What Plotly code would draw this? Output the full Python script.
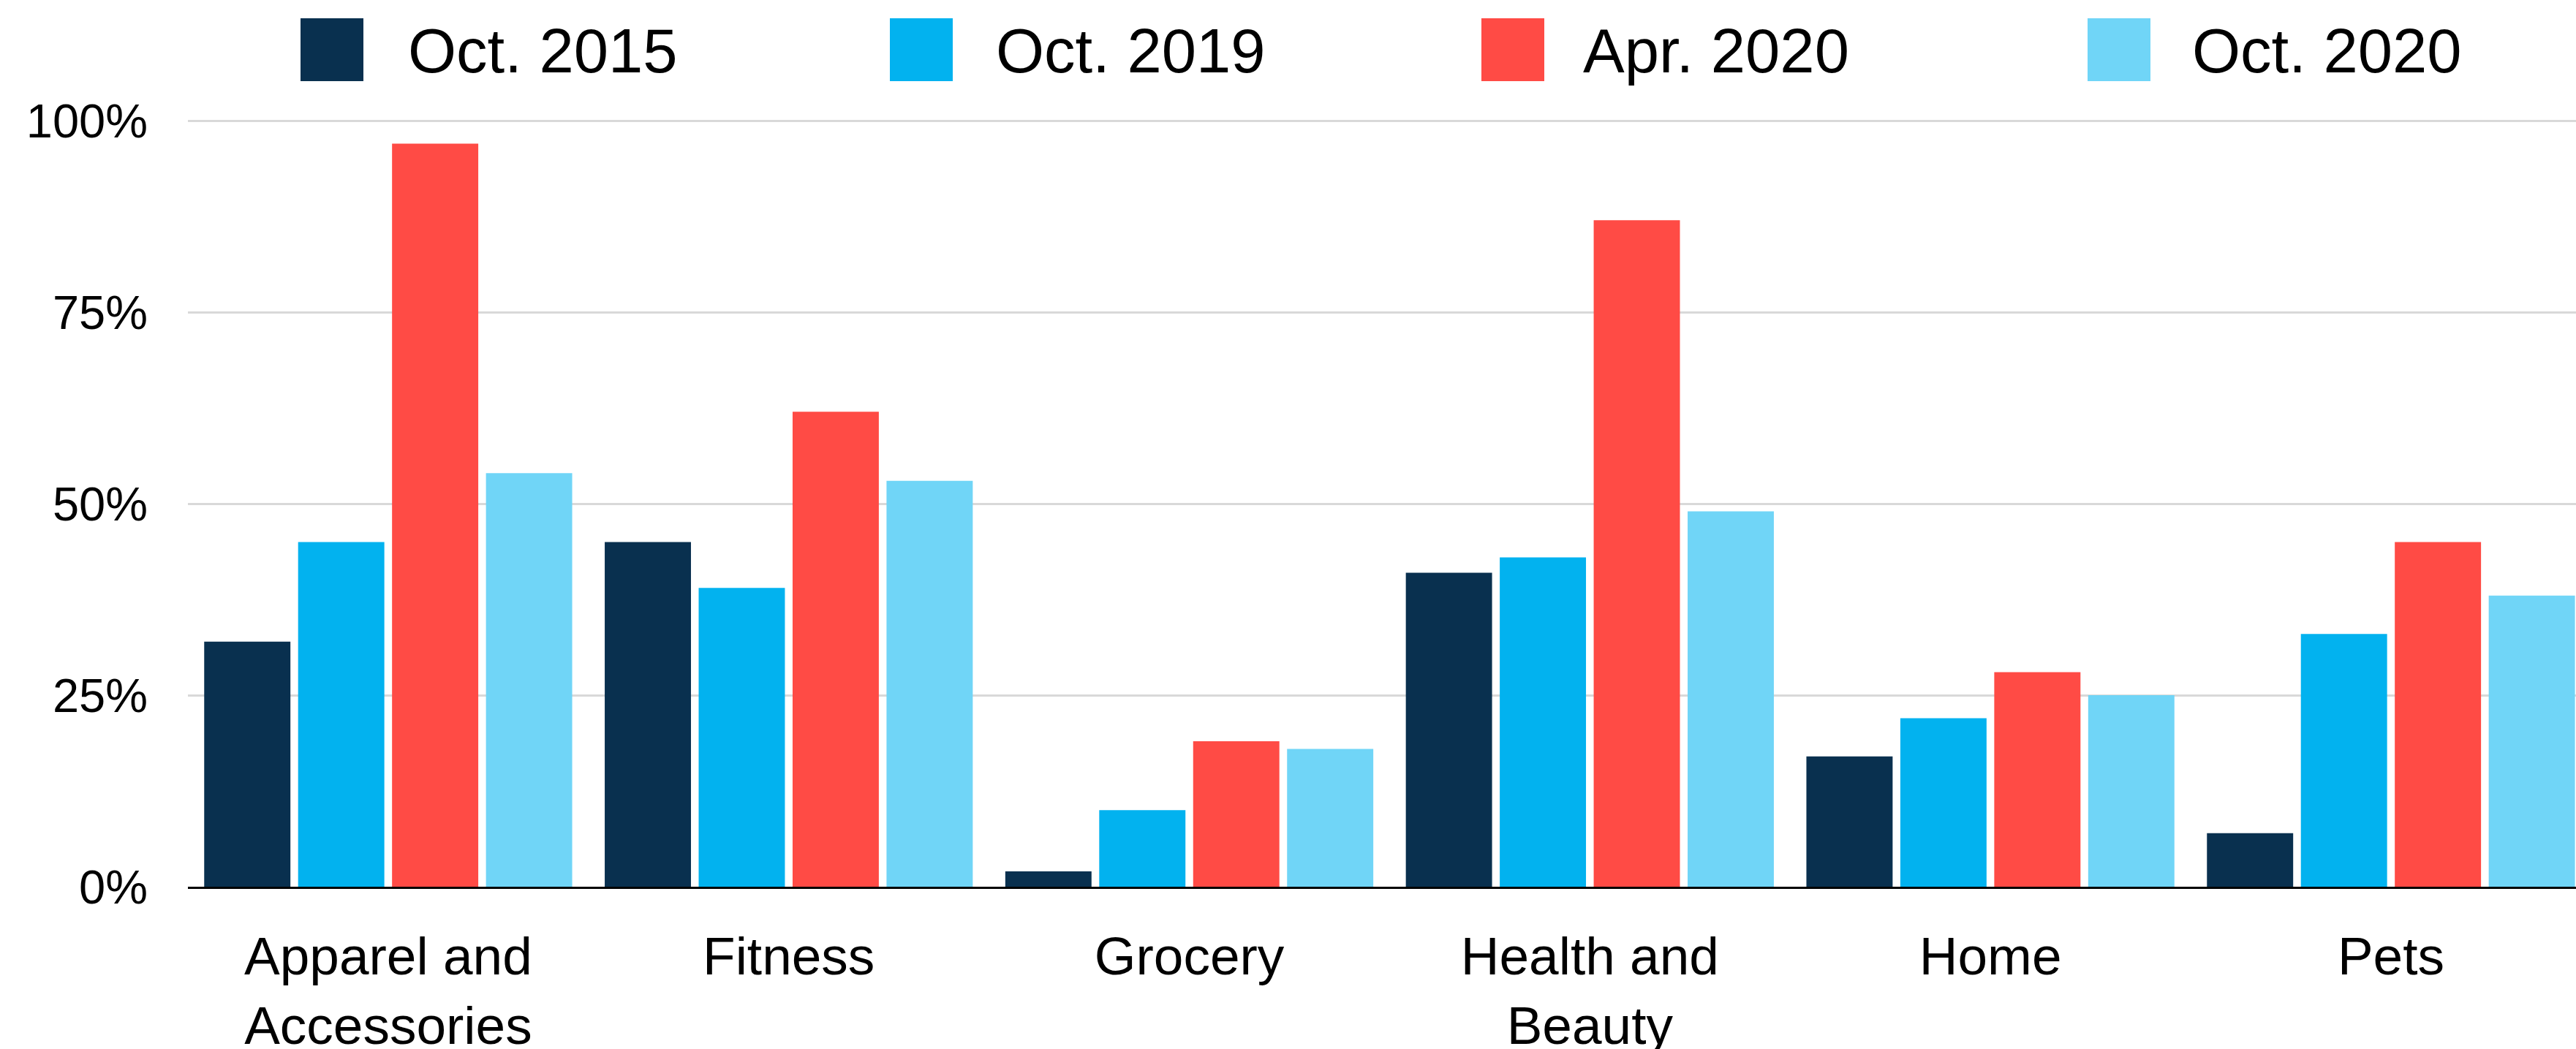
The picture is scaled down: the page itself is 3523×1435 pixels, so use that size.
import plotly.graph_objects as go

# Share of shoppers by category, four survey waves
categories = ["Apparel and<br>Accessories", "Fitness", "Grocery",
              "Health and<br>Beauty", "Home", "Pets"]
series_names = ["Oct. 2015", "Oct. 2019", "Apr. 2020", "Oct. 2020"]
oct_2015 = [32, 45, 2, 41, 17, 7]
oct_2019 = [45, 39, 10, 43, 22, 33]
apr_2020 = [97, 62, 19, 87, 28, 45]
oct_2020 = [54, 53, 18, 49, 25, 38]
y_ticks = [0, 25, 50, 75, 100]
y_tick_labels = ["0%", "25%", "50%", "75%", "100%"]

colors = ["#09304F", "#02B2EF", "#FF4B45", "#70D5F7"]
values = [oct_2015, oct_2019, apr_2020, oct_2020]

W, H = 3523, 1435
L, R, T, B = 257, 0, 162, 222
Y_MAX = 100.3
FONT = "Liberation Sans, Arial, sans-serif"

fig = go.Figure()
for name, vals, col in zip(series_names, values, colors):
    fig.add_trace(go.Bar(x=categories, y=vals, name=name,
                         marker=dict(color=col, line=dict(width=0)),
                         showlegend=False))

# plot-area pixel -> paper coordinates
pw, ph = W - L - R, H - T - B
def px(x):
    return (x - L) / pw
def py(y):
    return (H - B - y) / ph

# hand-drawn legend row above the plot
shapes, annotations = [], []
sq_left = [411, 1217, 2026, 2855]
txt_left = [556, 1360, 2163, 2996]
for i, name in enumerate(series_names):
    shapes.append(dict(type="rect", xref="paper", yref="paper",
                       x0=px(sq_left[i]), x1=px(sq_left[i] + 86),
                       y0=py(111), y1=py(25),
                       fillcolor=colors[i], line=dict(width=0)))
    annotations.append(dict(xref="paper", yref="paper",
                            x=px(txt_left[i]), y=py(70),
                            xanchor="left", yanchor="middle",
                            text=name, showarrow=False,
                            font=dict(family=FONT, size=85, color="#000")))

fig.update_layout(
    width=W, height=H,
    margin=dict(l=L, r=R, t=T, b=B, pad=0, autoexpand=False),
    paper_bgcolor="white", plot_bgcolor="white",
    barmode="group", bargap=0.062, bargroupgap=0.082,
    font=dict(family=FONT, color="#000"),
    shapes=shapes, annotations=annotations,
    xaxis=dict(range=[-0.5, 5.462], showgrid=False, showline=True,
               linecolor="#000", linewidth=3, ticks="", automargin=False,
               tickfont=dict(family=FONT, size=73, color="#000"),
               ticklabelstandoff=29, fixedrange=True),
    yaxis=dict(range=[0, Y_MAX], tickmode="array", tickvals=y_ticks,
               ticktext=y_tick_labels, automargin=False,
               showgrid=True, gridcolor="#D9D9D9", gridwidth=2.5,
               zeroline=False, showline=False, ticks="",
               tickfont=dict(family=FONT, size=65, color="#000"),
               ticklabelstandoff=54, fixedrange=True),
)

fig.write_html("out.html")
